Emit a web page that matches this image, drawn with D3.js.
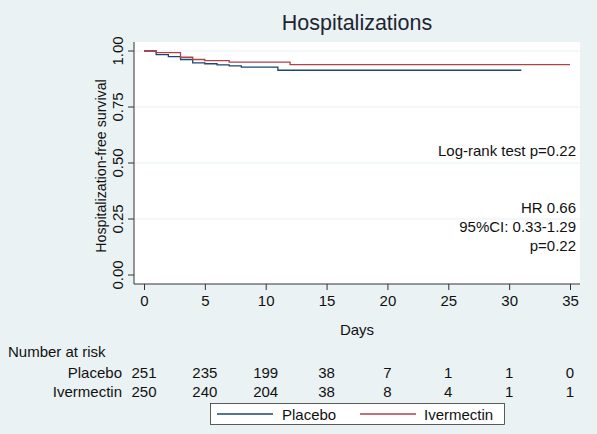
<!DOCTYPE html>
<html><head><meta charset="utf-8">
<script src="https://cdn.jsdelivr.net/npm/d3@7"></script>
<style>body{margin:0;background:#eaf2f3;}svg{display:block;font-family:"Liberation Sans",Arial,sans-serif;}</style>
</head><body><svg id="c" width="597" height="434"></svg>
<script>
const placeboDays = [0,1,2,3,4,5,6,7,8,11,31];
const placeboSurv = [1,0.984,0.975,0.962,0.947,0.943,0.938,0.934,0.928,0.914,0.914];
const ivermectinDays = [0,1,3,4,5,7,12,35];
const ivermectinSurv = [1,0.993,0.972,0.962,0.957,0.950,0.939,0.939];
const xTicks = [0,5,10,15,20,25,30,35];
const yTicks = [0,0.25,0.5,0.75,1];
const riskPlacebo = [251,235,199,38,7,1,1,0];
const riskIvermectin = [250,240,204,38,8,4,1,1];
const annotations = ["Log-rank test p=0.22","HR 0.66","95%CI: 0.33-1.29","p=0.22"];
const annotY = [151,208,227,246];
const colors = {Placebo:"#1a476f", Ivermectin:"#b0404a"};
const FS = 15;

const svg = d3.select("#c");
const x = d3.scaleLinear().domain([0,35]).range([144,570]);
const y = d3.scaleLinear().domain([0,1]).range([275,51]);

svg.append("rect").attr("width",597).attr("height",434).attr("fill","#eaf2f3");
svg.append("rect").attr("x",134).attr("y",42).attr("width",446).attr("height",242).attr("fill","#fff");

// gridlines
svg.append("g").selectAll("line").data(yTicks.filter(d=>d>0)).join("line")
  .attr("x1",135).attr("x2",580).attr("y1",d=>y(d)).attr("y2",d=>y(d))
  .attr("stroke","#e6eff1").attr("stroke-width",1);

// title
svg.append("text").attr("x",357).attr("y",30).attr("text-anchor","middle")
  .attr("font-size",21.5).attr("fill","#1c2633").text("Hospitalizations");

// y axis
const yAxis = d3.axisLeft(y).tickValues(yTicks).tickFormat(d3.format(".2f")).tickSize(6).tickSizeOuter(0);
const gy = svg.append("g").attr("transform","translate(134,0)").call(yAxis);
gy.attr("font-family",null);
gy.select(".domain").attr("d","M0,42V284").attr("stroke","#333");
gy.selectAll(".tick").each(function(d){
  const t=d3.select(this); t.attr("transform",null);
  t.select("line").attr("y1",y(d)).attr("y2",y(d)).attr("stroke","#333");
  t.select("text").attr("x",-11).attr("y",y(d)).attr("dy",null)
    .attr("transform",`rotate(-90,-11,${y(d)})`).attr("text-anchor","middle")
    .attr("font-size",FS).attr("fill","#111");
});
svg.append("text").attr("transform","translate(106,166) rotate(-90)").attr("text-anchor","middle")
  .attr("font-size",14.2).attr("fill","#111").text("Hospitalization-free survival");

// x axis
const xAxis = d3.axisBottom(x).tickValues(xTicks).tickSize(6).tickSizeOuter(0);
const gx = svg.append("g").attr("transform","translate(0,284)").call(xAxis);
gx.attr("font-family",null);
gx.select(".domain").attr("d","M134,0H580").attr("stroke","#333");
gx.selectAll(".tick line").attr("stroke","#333");
gx.selectAll(".tick text").attr("font-size",FS).attr("fill","#111").attr("y",11);
svg.append("text").attr("x",357).attr("y",335).attr("text-anchor","middle")
  .attr("font-size",FS).attr("fill","#111").text("Days");

// curves
const line = d3.line().x(d=>x(d[0])).y(d=>y(d[1])).curve(d3.curveStepAfter);
const pData = placeboDays.map((d,i)=>[d,placeboSurv[i]]);
const iData = ivermectinDays.map((d,i)=>[d,ivermectinSurv[i]]);
svg.append("path").attr("d",line(pData)).attr("fill","none").attr("stroke",colors.Placebo).attr("stroke-width",1.3);
svg.append("path").attr("d",line(iData)).attr("fill","none").attr("stroke",colors.Ivermectin).attr("stroke-width",1.3);

// annotations
svg.append("g").selectAll("text").data(annotations).join("text")
  .attr("x",576).attr("y",(d,i)=>annotY[i]+5).attr("text-anchor","end")
  .attr("font-size",FS).attr("fill","#111").text(d=>d);

// number at risk
svg.append("text").attr("x",8).attr("y",357).attr("font-size",FS).attr("fill","#111").text("Number at risk");
const rows = [["Placebo",riskPlacebo,378],["Ivermectin",riskIvermectin,397]];
rows.forEach(([name,vals,yy])=>{
  svg.append("text").attr("x",122).attr("y",yy).attr("text-anchor","end").attr("font-size",FS).attr("fill","#111").text(name);
  svg.append("g").selectAll("text").data(vals).join("text")
    .attr("x",(d,i)=>x(xTicks[i])).attr("y",yy).attr("text-anchor","middle")
    .attr("font-size",FS).attr("fill","#111").text(d=>d);
});

// legend
svg.append("rect").attr("x",210.5).attr("y",403.5).attr("width",294).attr("height",21).attr("fill","#fff").attr("stroke","#333").attr("stroke-width",0.8);
const leg = [["Placebo",217,282],["Ivermectin",360,424]];
leg.forEach(([name,lx,tx])=>{
  svg.append("line").attr("x1",lx).attr("x2",lx+56).attr("y1",414).attr("y2",414).attr("stroke",colors[name]).attr("stroke-width",1.3);
  svg.append("text").attr("x",tx).attr("y",419.5).attr("font-size",FS).attr("fill","#111").text(name);
});
</script></body></html>
